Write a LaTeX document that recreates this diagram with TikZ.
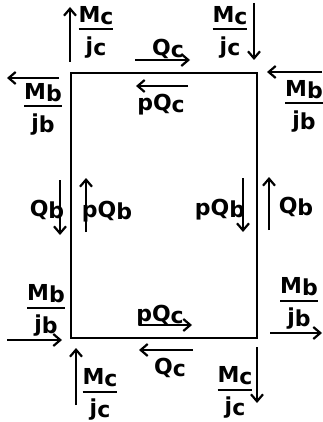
\documentclass[tikz,border=0pt]{standalone}
\usepackage{fontspec}
\setmainfont{DejaVu Sans}
\usepackage{tikz}
\usetikzlibrary{arrows.meta}
\setlength{\arrayrulewidth}{2pt}
\newcommand{\lw}[1]{\raisebox{-2pt}{#1}}
\newcommand{\ratio}[2]{\begin{tabular}{@{}c@{}}#1\\[-1pt]\hline\noalign{\vskip 6pt}#2\end{tabular}}

\begin{document}
\begin{tikzpicture}[
          x=1pt, y=-1pt,
          frame/.style={line width=2.4pt},
          force/.style={line width=2.2pt, -{Straight Barb[length=7pt,width=12pt,line width=2.2pt]}},
          lbl/.style={inner sep=0pt, font=\fontsize{22}{24}\selectfont\bfseries}
        ]
          \useasboundingbox (0,0) rectangle (323,422);

          % Element
          \coordinate (nw) at (71,73);
          \coordinate (se) at (257,338);
          \draw[frame] (nw) rectangle (se);

          % Top left corner
          \draw[force] (70,62) -- (70,7);
          \node[lbl] (mctl) at (96,33) {\ratio{M\lw{c}}{j\lw{c}}};
          \draw[force] (59,78) -- (7,78);
          \node[lbl] (mbtl) at (43,110) {\ratio{M\lw{b}}{j\lw{b}}};

          % Top right corner
          \draw[force] (254,3) -- (254,60);
          \node[lbl] (mctr) at (230,33) {\ratio{M\lw{c}}{j\lw{c}}};
          \draw[force] (322,72) -- (267,72);
          \node[lbl] (mbtr) at (304,107) {\ratio{M\lw{b}}{j\lw{b}}};

          % Top edge
          \draw[force] (135,60) -- (190,60);
          \node[lbl] (qct) at (168,49) {Q\lw{c}};
          \draw[force] (188,86) -- (136,86);
          \node[lbl] (pqct) at (161,105) {pQ\lw{c}};

          % Left edge
          \draw[force] (60,180) -- (60,235);
          \node[lbl] (qbl) at (47,210) {Q\lw{b}};
          \draw[force] (86,232) -- (86,178);
          \node[lbl] (pqbl) at (107,212) {pQ\lw{b}};

          % Right edge
          \draw[force] (243,178) -- (243,232);
          \node[lbl] (pqbr) at (220,210) {pQ\lw{b}};
          \draw[force] (269,230) -- (269,177);
          \node[lbl] (qbr) at (296,207) {Q\lw{b}};

          % Bottom edge
          \draw[force] (139,325) -- (192,325);
          \node[lbl] (pqcb) at (160,316) {pQ\lw{c}};
          \draw[force] (193,350) -- (139,350);
          \node[lbl] (qcb) at (170,368) {Q\lw{c}};

          % Bottom left corner
          \draw[force] (7,340) -- (62,340);
          \node[lbl] (mbbl) at (46,311) {\ratio{M\lw{b}}{j\lw{b}}};
          \draw[force] (76,405) -- (76,348);
          \node[lbl] (mcbl) at (100,395) {\ratio{M\lw{c}}{j\lw{c}}};

          % Bottom right corner
          \draw[force] (270,333) -- (322,333);
          \node[lbl] (mbbr) at (299,304) {\ratio{M\lw{b}}{j\lw{b}}};
          \draw[force] (257,347) -- (257,403);
          \node[lbl] (mcbr) at (235,393) {\ratio{M\lw{c}}{j\lw{c}}};
        \end{tikzpicture}
\end{document}
